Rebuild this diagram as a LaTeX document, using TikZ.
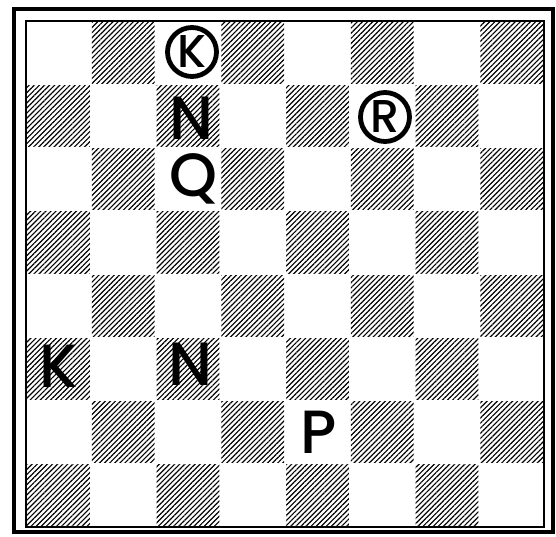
\documentclass[tikz,border=0pt]{standalone}
\usepackage{fontspec}
\setmainfont{Poppins}
\IfFontExistsTF{Poppins Medium}{\newfontfamily\piecefont{Poppins Medium}}{\newfontfamily\piecefont{Poppins}[FakeBold=1.5]}
\usetikzlibrary{patterns.meta}
\begin{document}
\begin{tikzpicture}[x=1pt,y=-1pt,
  hatch/.style={pattern={Lines[angle=45,distance=3.6pt,line width=1.15pt]}},
  piece/.style={font=\piecefont\fontsize{61}{61}\selectfont, inner sep=0pt},
  ringed/.style={draw, circle, line width=4.8pt, minimum size=49pt, inner sep=0pt,
    font=\piecefont\fontsize{46}{46}\selectfont},
  outerframe/.style={draw, line width=4pt},
  innerframe/.style={draw, line width=1.3pt}]
\useasboundingbox (0,0) rectangle (556,537);
\def\sx{64.75}\def\sy{63.25}
% hatched squares
\foreach \r in {0,...,7}{\foreach \c in {0,...,7}{
  \pgfmathtruncatemacro\s{\r+\c}
  \ifodd\s
    \path[hatch] ({26+\c*\sx+1},{21+\r*\sy+1}) rectangle ++({\sx-2},{\sy-2});
  \fi}}
% frames
\path[outerframe] (14,9) rectangle (553,532);
\path[innerframe] (26,21) rectangle (544,527);
% pieces
\node[ringed] (bk) at (192,52) {K};
\node[piece] (bn) at (191,118) {N};
\node[ringed] (br) at (385,117) {R};
\node[piece] (bq) at (194,179) {Q};
\node[piece] (wk) at (59,366) {K};
\node[piece] (wn) at (190,364) {N};
\node[piece] (wp) at (319,432) {P};
\end{tikzpicture}
\end{document}
